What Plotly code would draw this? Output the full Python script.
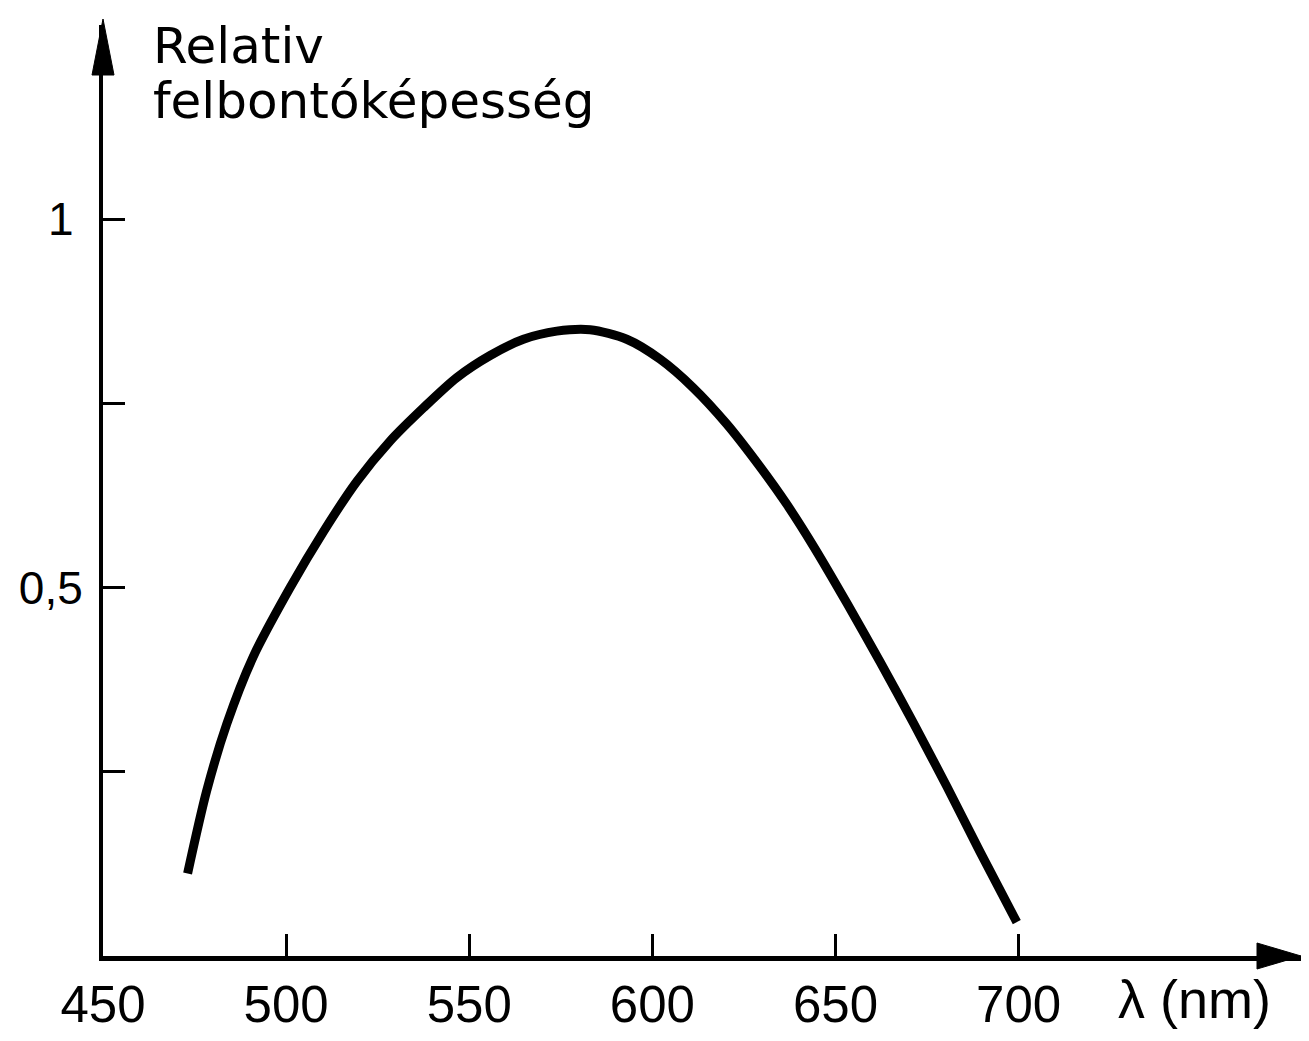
import plotly.graph_objects as go

# Data
wavelength_nm = [473.1, 478.3, 483.8, 491.0, 501.1, 510.2, 519.3, 528.4, 537.5, 546.6,
                 555.7, 564.8, 573.9, 583.0, 593.0, 602.1, 611.2, 620.3, 629.4, 636.7,
                 644.0, 653.1, 662.2, 671.3, 680.4, 689.5, 699.5]
relative_resolution = [0.112, 0.224, 0.315, 0.406, 0.500, 0.576, 0.644, 0.699, 0.744, 0.785,
                       0.815, 0.837, 0.848, 0.850, 0.837, 0.810, 0.771, 0.722, 0.664, 0.613,
                       0.556, 0.479, 0.399, 0.316, 0.230, 0.141, 0.046]

x_tickvals = [450, 500, 550, 600, 650, 700]
x_ticktext = ["450", "500", "550", "600", "650", "700"]
y_tickvals = [0.25, 0.5, 0.75, 1.0]
y_ticktext = ["", "0,5", "", "1\u2009"]

y_title_lines = ["Relativ", "felbontóképesség"]
x_title = "λ (nm)"

FONT = "Liberation Sans, Arial, sans-serif"
TITLE_FONT = "DejaVu Sans, Verdana, sans-serif"

fig = go.Figure()
fig.add_trace(go.Scatter(
    x=wavelength_nm, y=relative_resolution, mode="lines",
    line=dict(color="black", width=9, shape="spline", smoothing=0.8),
    hoverinfo="skip", showlegend=False,
))

fig.update_layout(
    width=1293, height=1025,
    margin=dict(l=95, r=0, t=17, b=71),
    paper_bgcolor="white", plot_bgcolor="white",
    showlegend=False,
    font=dict(family=FONT, color="black"),
    xaxis=dict(
        range=[450, 777.1], showgrid=False, zeroline=False,
        showline=True, linecolor="black", linewidth=5,
        tickmode="array", tickvals=x_tickvals, ticktext=x_ticktext,
        ticks="inside", ticklen=22, tickwidth=3, tickcolor="black",
        tickfont=dict(size=51, family=FONT, color="black"),
        ticklabelstandoff=0,
    ),
    yaxis=dict(
        range=[0, 1.2635], showgrid=False, zeroline=False,
        showline=True, linecolor="black", linewidth=4,
        tickmode="array", tickvals=y_tickvals, ticktext=y_ticktext,
        ticks="inside", ticklen=22, tickwidth=3, tickcolor="black",
        tickfont=dict(size=46, family=FONT, color="black"),
        ticklabelstandoff=7,
    ),
)

# arrowheads on the axes (pixel-sized shapes anchored at axis ends)
fig.add_shape(type="path", xref="paper", yref="paper",
              xsizemode="pixel", ysizemode="pixel", xanchor=0, yanchor=1,
              path="M -11,-50 L 11,-50 L 0,6 Z",
              fillcolor="black", line=dict(color="black", width=1))
fig.add_shape(type="path", xref="paper", yref="paper",
              xsizemode="pixel", ysizemode="pixel", xanchor=1, yanchor=0,
              path="M -44,-13 L -44,13 L 0,0 Z",
              fillcolor="black", line=dict(color="black", width=1))

# axis titles
fig.add_annotation(text=y_title_lines[0], xref="paper", yref="paper",
                   x=0.040, y=0.977, xanchor="left", yanchor="middle",
                   showarrow=False, font=dict(size=50, family=TITLE_FONT, color="black"))
fig.add_annotation(text=y_title_lines[1], xref="paper", yref="paper",
                   x=0.040, y=0.918, xanchor="left", yanchor="middle",
                   showarrow=False, font=dict(size=50, family=TITLE_FONT, color="black"))
fig.add_annotation(text=x_title, xref="paper", yref="paper",
                   x=0.9115, y=-0.046, xanchor="center", yanchor="middle",
                   showarrow=False, font=dict(size=54, family=FONT, color="black"))

fig.write_html("out.html")
